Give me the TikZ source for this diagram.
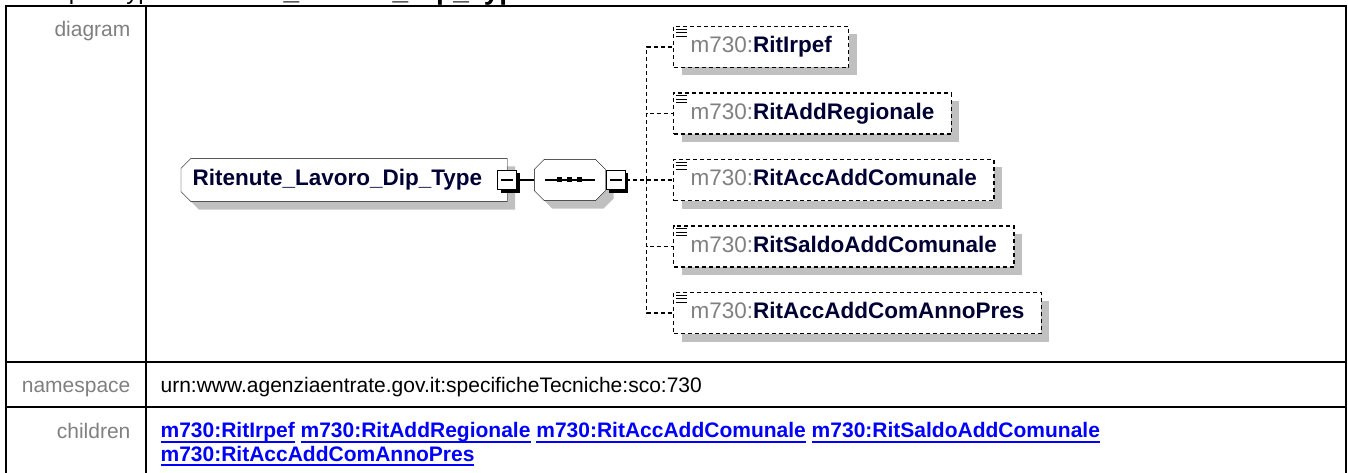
\documentclass[tikz,border=0pt]{standalone}
\usepackage{fontspec}
\setmainfont{Liberation Sans}
\usetikzlibrary{positioning,shadows,backgrounds}
\definecolor{XSgrey}{HTML}{808080}
\definecolor{XSshade}{HTML}{C0C0C0}
\definecolor{XSname}{HTML}{000033}
\definecolor{XSlink}{HTML}{0000FF}
\newsavebox{\xsbox}
\newcommand{\xsref}[1]{\sbox{\xsbox}{m730:#1}\rlap{\rule[-5.4pt]{\wd\xsbox}{2pt}}\usebox{\xsbox}}

\begin{document}
\begin{tikzpicture}[
    x=1pt, y=-1pt, line width=1.2pt,
    every node/.style={inner sep=0pt, font=\fontsize{22.5}{27}\selectfont},
    xsshadow/.style={drop shadow={shadow xshift=8pt, shadow yshift=-8pt, opacity=1, fill=XSshade}},
    rootbox/.style={minimum width=325pt, minimum height=42pt, text width=303pt, align=left, anchor=west, text height=16.5pt, text depth=4.7pt},
    seqbox/.style={minimum width=70pt, minimum height=40pt},
    minusbox/.style={draw, fill=white, minimum size=19pt, drop shadow={shadow xshift=3pt, shadow yshift=-3pt, opacity=1, fill=black}, path picture={\draw ([xshift=-6pt]path picture bounding box.center) -- ([xshift=6pt]path picture bounding box.center);}},
    elembox/.style={xsshadow, draw, dash pattern=on 4pt off 3pt, fill=white, minimum height=41pt, inner xsep=17pt, anchor=west, text height=16.5pt, text depth=4.7pt},
    dashlink/.style={dash pattern=on 4pt off 3pt},
    rowlabel/.style={anchor=base east, text=XSgrey, font=\fontsize{21}{24}\selectfont},
    rowvalue/.style={anchor=base west, font=\fontsize{21}{23.5}\selectfont},
    tablerule/.style={line width=2.2pt}
  ]
    \useasboundingbox (0,0) rectangle (1348,473);
    \draw[tablerule] (6,480) -- (6,6) -- (1346,6) -- (1346,480);
    \draw[tablerule] (146,6) -- (146,480) (6,362) -- (1346,362) (6,407) -- (1346,407);

    \node[anchor=base west, font=\fontsize{24}{28}\selectfont] (heading) at (23,-0.5) {complexType {\fontsize{28}{32}\selectfont\bfseries Ritenute\_Lavoro\_Dip\_Type}};

    \node[rowlabel] (lbldiagram) at (131,37) {diagram};
    \node[rowlabel] (lblns) at (131,392) {namespace};
    \node[rowlabel] (lblchildren) at (131,438) {children};
    \node[rowvalue] (valns) at (160,392) {urn:www.agenziaentrate.gov.it:specificheTecniche:sco:730};
    \node[rowvalue, text=XSlink, align=left, font=\fontsize{21}{23.5}\selectfont\bfseries] (valchildren) at (160,461)
      {\xsref{RitIrpef} \xsref{RitAddRegionale} \xsref{RitAccAddComunale} \xsref{RitSaldoAddComunale}\\ \xsref{RitAccAddComAnnoPres}};

    \node[rootbox] (root) at (181,180) {\textcolor{XSname}{\bfseries Ritenute\_Lavoro\_Dip\_Type}};
    \node[minusbox] (rootminus) at (root.east) {};
    \node[seqbox, right=17pt of rootminus] (seq) {};
    \begin{scope}[on background layer]
      \draw[xsshadow, fill=white] ([xshift=10pt]root.north west) -- (root.north east) -- (root.south east)
        -- ([xshift=10pt]root.south west) -- ([yshift=10pt]root.south west) -- ([yshift=-10pt]root.north west) -- cycle;
      \draw[xsshadow, fill=white] ([xshift=10pt]seq.north west) -- ([xshift=-10pt]seq.north east) -- ([yshift=-10pt]seq.north east)
        -- ([yshift=10pt]seq.south east) -- ([xshift=-10pt]seq.south east) -- ([xshift=10pt]seq.south west)
        -- ([yshift=10pt]seq.south west) -- ([yshift=-10pt]seq.north west) -- cycle;
    \end{scope}
    \draw ([xshift=-25pt]seq.center) -- ([xshift=25pt]seq.center);
    \foreach \d in {-10,0,10}
      \fill ([xshift=\d pt]seq.center) +(-2.5,-2.5) rectangle +(2.5,2.5);
    \node[minusbox, right=0pt of seq] (seqminus) {};
    \coordinate[right=21pt of seqminus] (jn);
    \draw (rootminus) -- (seq);
    \draw[dashlink] (seqminus) -- (jn);

    \foreach \elname [count=\i] in {RitIrpef, RitAddRegionale, RitAccAddComunale, RitSaldoAddComunale, RitAccAddComAnnoPres} {
      \node[elembox] (c\i) at (673, {180+66.5*\i-199.5}) {\textcolor{XSgrey}{m730:}\textcolor{XSname}{\bfseries\elname}};
      \foreach \k in {0,1,2}
        \draw[line width=1pt] ([xshift=2.5pt, yshift=-3.5pt-3.5pt*\k]c\i.north west) -- ++(11,0);
      \draw[dashlink] (jn) |- (c\i.west);
    }
\end{tikzpicture}
\end{document}
